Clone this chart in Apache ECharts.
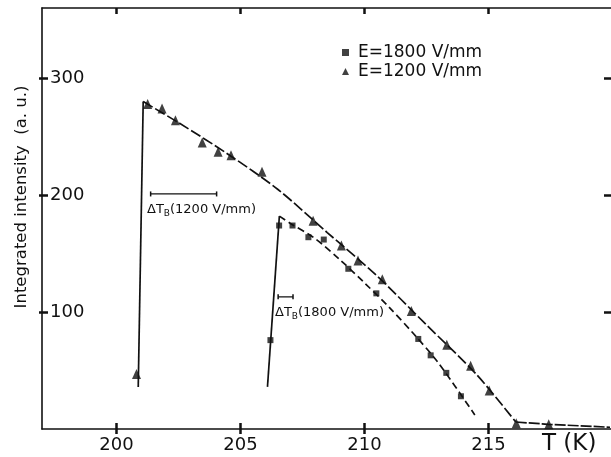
<!DOCTYPE html>
<html>
<head>
<meta charset="utf-8">
<script src="https://cdn.jsdelivr.net/npm/echarts@6/dist/echarts.min.js"></script>
<style>
  html, body { margin: 0; padding: 0; background: #fff; }
  #chart { width: 611px; height: 457px; }
</style>
</head>
<body>
<div id="chart"></div>
<script>
// data (T in K, intensity in a.u.)
const tickT = [200, 205, 210, 215];
const tickI = [100, 200, 300];

// E=1800 V/mm  (squares)
const pts1800 = [
  [206.21, 76], [206.56, 174], [207.10, 174], [207.74, 164], [208.36, 162],
  [209.35, 137], [210.48, 116], [212.17, 77], [212.67, 63], [213.30, 48], [213.89, 28]
];
// E=1200 V/mm  (triangles)
const pts1200 = [
  [200.81, 47], [201.26, 278], [201.84, 274], [202.38, 264], [203.46, 245],
  [204.10, 237], [204.62, 234], [205.87, 220], [207.93, 178], [209.07, 157],
  [209.74, 144], [210.72, 128], [211.89, 101], [213.32, 72], [214.28, 54],
  [215.03, 33], [216.12, 5], [217.43, 4]
];

// drawn guide curves
const rise1800 = [[206.09, 36], [206.57, 182]];
const fit1800 = [
  [206.57, 182], [207.0, 176], [208.0, 163], [209.0, 145], [210.0, 125],
  [211.0, 104], [212.0, 81], [213.0, 56], [214.45, 12]
];
const rise1200 = [[200.88, 36], [201.08, 280]];
const fit1200 = [
  [201.08, 280], [202.5, 262], [204.5, 235], [206.5, 205], [208.5, 168],
  [210.5, 131], [212.5, 89], [214.5, 47], [216.1, 6]
];
const tail1200 = [[216.1, 6], [217.4, 4], [219.9, 1.5]];

// ΔT_B bars
const bar1200 = [[201.38, 201], [204.04, 201]];
const bar1800 = [[206.52, 113], [207.12, 113]];

const ink = '#111';
const font = 'DejaVu Sans';

const chart = echarts.init(document.getElementById('chart'), null, { renderer: 'canvas' });

function xAx(pos, opts) {
  return Object.assign({
    type: 'value', position: pos, min: 197, max: 219.94,
    axisLine: { show: true, onZero: false, lineStyle: { color: ink, width: 1.6 } },
    axisTick: { show: true, inside: true, length: 6, customValues: tickT, lineStyle: { color: ink, width: 2.5 } },
    axisLabel: { show: false },
    splitLine: { show: false }
  }, opts);
}
function yAx(pos, opts) {
  return Object.assign({
    type: 'value', position: pos, min: 0, max: 360,
    axisLine: { show: true, onZero: false, lineStyle: { color: ink, width: 1.6 } },
    axisTick: { show: true, inside: true, length: 6, customValues: tickI, lineStyle: { color: ink, width: 2.5 } },
    axisLabel: { show: false },
    splitLine: { show: false }
  }, opts);
}

const lineBase = { type: 'line', symbol: 'none', silent: true, z: 2 };

chart.setOption({
  animation: false,
  backgroundColor: '#fff',
  textStyle: { fontFamily: font, color: ink },
  grid: { left: 42, right: 0, top: 8, bottom: 28 },
  xAxis: [
    xAx('bottom', {
      axisLabel: { show: true, customValues: tickT, color: ink, fontSize: 18, fontFamily: font, margin: 7 }
    }),
    xAx('bottom', {
      axisLine: { show: false },
      axisTick: { show: true, inside: false, length: 5, customValues: tickT, lineStyle: { color: ink, width: 2.5 } }
    }),
    xAx('top', {})
  ],
  yAxis: [
    yAx('left', {
      axisLabel: { show: true, inside: true, customValues: tickI, color: ink, fontSize: 18, fontFamily: font, margin: 8 }
    }),
    yAx('left', {
      axisLine: { show: false },
      axisTick: { show: true, inside: false, length: 3, customValues: tickI, lineStyle: { color: ink, width: 2.5 } }
    }),
    yAx('right', { axisLine: { show: false }, axisTick: { show: true, inside: true, length: 7, customValues: tickI, lineStyle: { color: ink, width: 2.5 } } })
  ],
  legend: {
    orient: 'vertical', left: 337, top: 39, itemGap: 2,
    itemWidth: 7, itemHeight: 7,
    textStyle: { fontFamily: font, fontSize: 17, color: ink, padding: [0, 0, 0, 4] },
    data: ['E=1800 V/mm', 'E=1200 V/mm']
  },
  graphic: [
    {
      type: 'text', x: 22, y: 197, rotation: Math.PI / 2,
      style: { text: 'Integrated intensity  (a. u.)', fontFamily: font, fontSize: 16.5, fill: ink, align: 'center', verticalAlign: 'middle' }
    },
    {
      type: 'text', x: 542, y: 444,
      style: { text: 'T (K)', fontFamily: font, fontSize: 23, fill: ink, verticalAlign: 'middle' }
    },
    {
      type: 'text', x: 147, y: 210,
      style: {
        text: '{a|ΔT}{b|B}{a|(1200 V/mm)}', verticalAlign: 'middle',
        rich: { a: { fontFamily: font, fontSize: 13, fill: ink }, b: { fontFamily: font, fontSize: 9, fill: ink, padding: [8, 0, 0, 0] } }
      }
    },
    {
      type: 'text', x: 275, y: 313,
      style: {
        text: '{a|ΔT}{b|B}{a|(1800 V/mm)}', verticalAlign: 'middle',
        rich: { a: { fontFamily: font, fontSize: 13, fill: ink }, b: { fontFamily: font, fontSize: 9, fill: ink, padding: [8, 0, 0, 0] } }
      }
    }
  ],
  series: [
    Object.assign({}, lineBase, { name: 'rise1800', data: rise1800, lineStyle: { color: ink, width: 1.7 } }),
    Object.assign({}, lineBase, { name: 'fit1800', data: fit1800, smooth: 0.3, lineStyle: { color: ink, width: 1.7, type: [7, 4] } }),
    Object.assign({}, lineBase, { name: 'rise1200', data: rise1200, lineStyle: { color: ink, width: 1.7 } }),
    Object.assign({}, lineBase, { name: 'fit1200', data: fit1200, smooth: 0.3, lineStyle: { color: ink, width: 1.7, type: [11, 3] } }),
    Object.assign({}, lineBase, { name: 'tail1200', data: tail1200, lineStyle: { color: ink, width: 1.7, type: [11, 2] } }),
    Object.assign({}, lineBase, { name: 'bar1200', data: bar1200, symbol: 'rect', symbolSize: [1.5, 5], itemStyle: { color: ink }, lineStyle: { color: ink, width: 1.2 } }),
    Object.assign({}, lineBase, { name: 'bar1800', data: bar1800, symbol: 'rect', symbolSize: [1.5, 5], itemStyle: { color: ink }, lineStyle: { color: ink, width: 1.2 } }),
    {
      name: 'E=1800 V/mm', type: 'scatter', data: pts1800, symbol: 'rect', symbolSize: 6,
      itemStyle: { color: ink }, z: 3
    },
    {
      name: 'E=1200 V/mm', type: 'scatter', data: pts1200, symbol: 'triangle', symbolSize: [9, 10],
      itemStyle: { color: ink }, z: 3
    }
  ]
});
</script>
</body>
</html>
